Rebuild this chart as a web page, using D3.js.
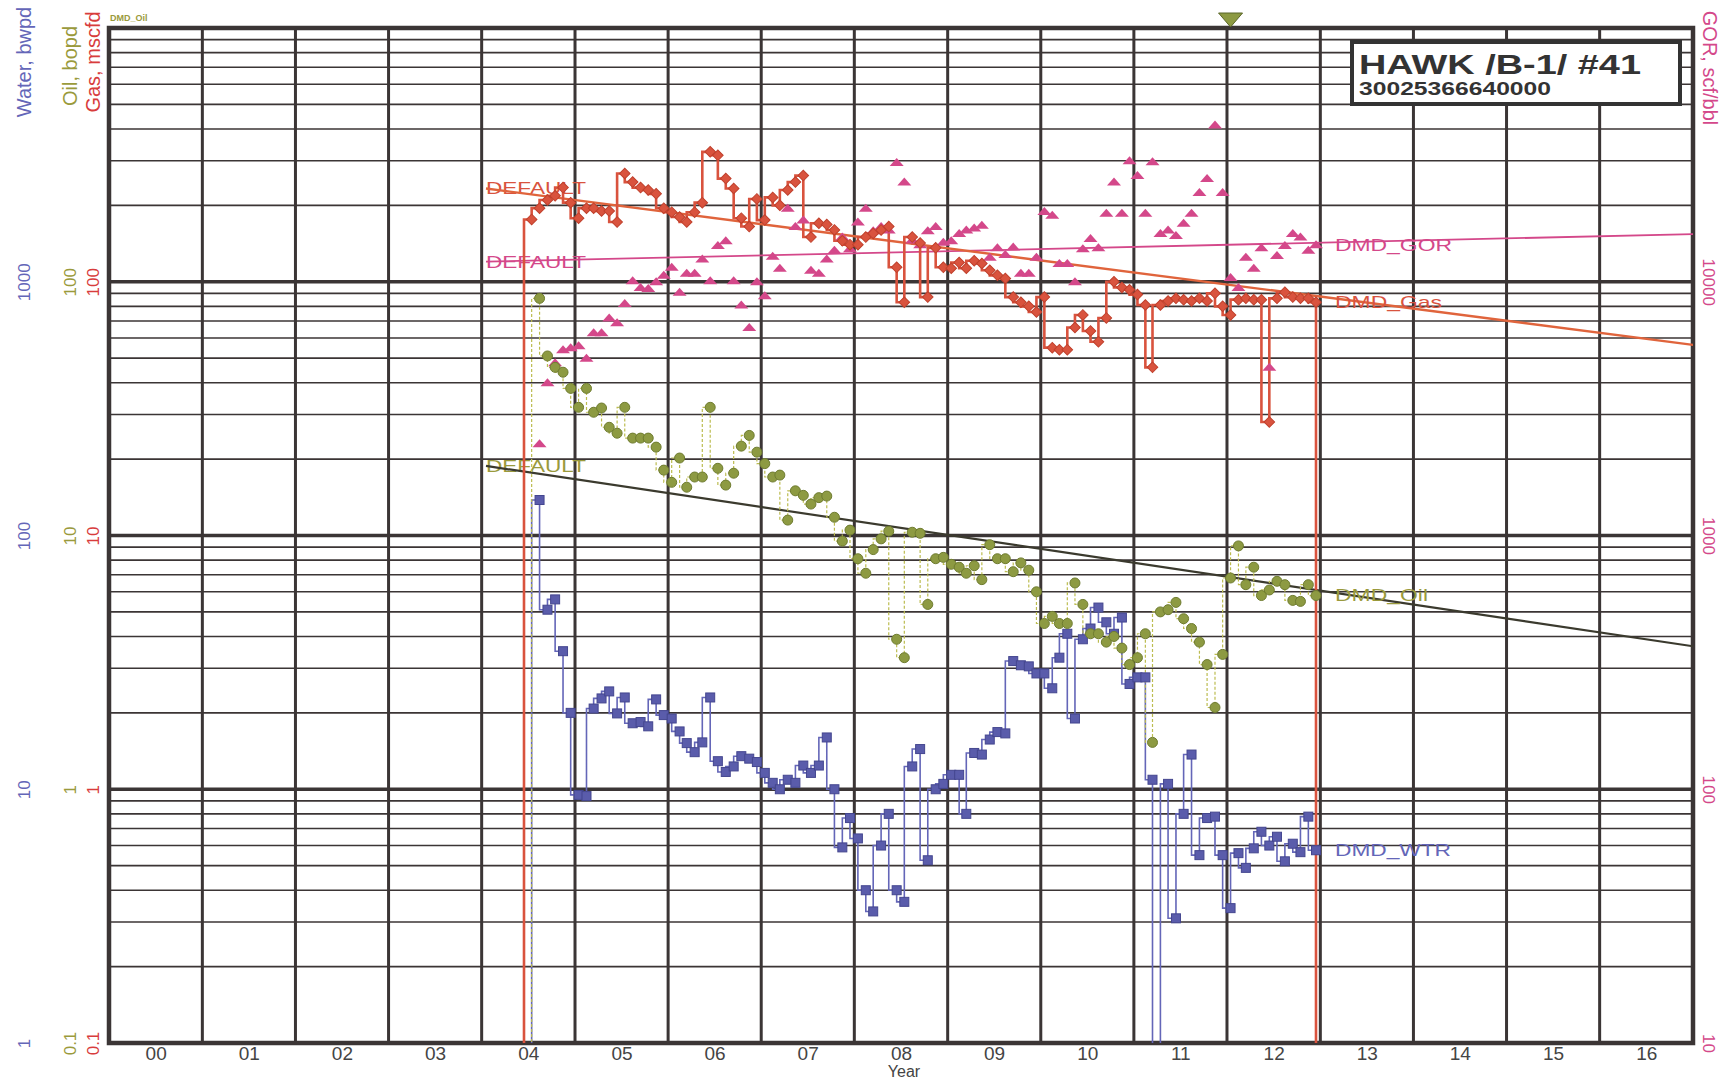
<!doctype html>
<html lang="en">
<head>
<meta charset="utf-8">
<title>HAWK /B-1/ #41</title>
<script src="https://d3js.org/d3.v7.min.js"></script>
<style>
  body { margin: 0; background: #fff; }
  svg { display: block; font-family: "Liberation Sans", Arial, sans-serif; }
</style>
</head>
<body>
<script>

// monthly values, gas starts Jul 2004, the other series one month later (Aug 2004)
var firstMonth = new Date(2004, 6, 15);
var lastMonth = new Date(2012, 11, 15);

var gas = [176, 195, 210, 218, 235, 205, 178, 195, 195, 190,
  190, 172, 267, 247, 235, 230, 222, 195, 188, 180,
  172, 188, 205, 325, 315, 255, 233, 178, 165, 212,
  175, 215, 200, 230, 247, 262, 150, 170, 168, 160,
  145, 140, 140, 150, 155, 160, 165, 114, 83, 150,
  142, 87, 136, 114, 113, 119, 113, 121, 118, 111,
  106, 103, 87, 83, 80, 76, 87, 55, 54, 54,
  66, 74, 64, 58, 72, 100, 95, 93, 89, 81,
  46, 81, 84, 86, 85, 84, 86, 84, 90, 80,
  74, 85, 86, 85, 85, 28, 86, 91, 87, 86,
  86, 83];

var oil = [86, 51, 46, 44, 38, 32, 38, 30.6, 31.8, 26.7,
  25.3, 32, 24.2, 24.2, 24.2, 22.3, 18.1, 16.2, 20.2, 15.5,
  17, 17, 32, 18.4, 15.8, 17.6, 22.5, 24.8, 21.3, 19.2,
  17, 17.3, 11.5, 15, 14.4, 13.3, 14.1, 14.3, 11.8, 9.5,
  10.5, 8.1, 7.1, 8.8, 9.7, 10.4, 3.9, 3.3, 10.3, 10.2,
  5.35, 8.1, 8.2, 7.7, 7.5, 7.1, 7.6, 6.7, 9.2, 8.1,
  8.1, 7.2, 7.8, 7.3, 6.0, 4.5, 4.8, 4.5, 4.5, 6.5,
  5.35, 4.1, 4.1, 3.8, 4.0, 3.6, 3.1, 3.3, 4.1, 1.53,
  5.0, 5.1, 5.45, 4.7, 4.3, 3.8, 3.1, 2.1, 3.4, 6.8,
  9.1, 6.4, 7.5, 5.8, 6.1, 6.6, 6.4, 5.55, 5.5, 6.4,
  5.8];

var gor = [2300, 4000, 4800, 5400, 5500, 5600, 5000, 6300, 6300, 7200,
  6900, 8200, 10100, 9500, 9400, 10000, 10600, 11400, 9100, 10800,
  10800, 12300, 10100, 13900, 14500, 10100, 8100, 6600, 10000, 8800,
  12600, 11300, 19500, 16500, 17500, 11100, 10800, 12300, 13300, 15000,
  13500, 17200, 19500, 15900, 16500, 16000, 29500, 24700, 14600, 14000,
  15900, 16500, 14300, 14500, 15500, 16000, 16300, 16700, 12500, 13600,
  12800, 13700, 10800, 10800, 12500, 18900, 18300, 11800, 11800, 10000,
  13500, 14800, 13600, 18600, 24700, 18600, 30000, 26200, 18600, 29700,
  15500, 16000, 15200, 17000, 18600, 22500, 25500, 41500, 22500, 10400,
  9500, 12500, 11300, 13600, 4600, 12700, 13900, 15500, 15000, 13300,
  14000];

var water = [138, 51, 56, 35, 20, 9.5, 9.4, 20.8, 22.8, 24.3,
  19.9, 23, 18.2, 18.4, 17.7, 22.6, 19.6, 19, 16.9, 15.2,
  14, 15.3, 23, 12.9, 11.7, 12.3, 13.5, 13.2, 12.8, 11.6,
  10.6, 10, 10.9, 10.6, 12.4, 11.6, 12.4, 16, 10, 5.9,
  7.7, 6.4, 4, 3.3, 6, 8, 4, 3.6, 12.3, 14.4,
  5.25, 10, 10.5, 11.4, 11.4, 8, 13.9, 13.7, 15.7, 16.8,
  16.6, 32, 30.8, 30.5, 28.6, 28.6, 25, 33, 41, 19,
  39, 43, 52, 45.5, 41, 47.5, 26, 27.6, 27.6, 10.9,
  0, 10.5, 3.1, 8, 13.7, 5.5, 7.7, 7.8, 5.5, 3.4,
  5.6, 4.9, 5.85, 6.8, 6, 6.5, 5.2, 6.1, 5.65, 7.8,
  5.75];

// decline lines (start value at trendStart, end value at trendEnd)
var trendStart = new Date(2004, 0, 18);
var trendEnd = new Date(2017, 0, 1);
var gasTrend = [233, 56.4];
var gorTrend = [12000, 15400];
var oilTrend = [18.8, 3.66];

var oilTicks = [0.1, 1, 10, 100];
var waterTicks = [1, 10, 100, 1000];
var gorTicks = [10, 100, 1000, 10000];
var markerDate = new Date(2012, 0, 15);

var W = 1733, H = 1081;
var pLeft = 109, pRight = 1693, pTop = 28, pBottom = 1043;

var gridColor = "#3b3535";
var gasColor = "#d9533e", gorColor = "#d4488a", oilColor = "#8d9a42", waterColor = "#5a5cab";

var svg = d3.select("body").append("svg")
    .attr("width", W)
    .attr("height", H);

var x = d3.scaleTime().domain([new Date(2000, 0, 1), new Date(2017, 0, 1)]).range([pLeft, pRight]);
var y = d3.scaleLog().domain([0.1, 1000]).range([pBottom, pTop]);      // oil & gas
var yW = d3.scaleLog().domain([1, 10000]).range([pBottom, pTop]);      // water
var yG = d3.scaleLog().domain([10, 100000]).range([pBottom, pTop]);    // gor

var months = d3.timeMonth.range(d3.timeMonth.floor(firstMonth), d3.timeMonth.offset(lastMonth, 1))
    .map(function(d) { return d3.timeDay.offset(d, 14); });
var laterMonths = months.slice(1);

svg.append("defs").append("clipPath").attr("id", "plot")
  .append("rect").attr("x", pLeft).attr("y", pTop).attr("width", pRight - pLeft).attr("height", pBottom - pTop);

// grid
var grid = svg.append("g");
y.ticks().forEach(function(v) {
  if (v <= 0.1 || v >= 1000) return;
  var lg = Math.log10(v);
  var major = Math.abs(lg - Math.round(lg)) < 1e-9;
  grid.append("line")
    .attr("x1", pLeft).attr("x2", pRight)
    .attr("y1", y(v)).attr("y2", y(v))
    .attr("stroke", gridColor)
    .attr("stroke-width", major ? 3.5 : 1.6);
});
d3.timeYear.range(new Date(2001, 0, 1), new Date(2017, 0, 1)).forEach(function(d) {
  grid.append("line")
    .attr("x1", x(d)).attr("x2", x(d))
    .attr("y1", pTop).attr("y2", pBottom)
    .attr("stroke", gridColor)
    .attr("stroke-width", 3);
});
grid.append("rect")
  .attr("x", pLeft).attr("y", pTop).attr("width", pRight - pLeft).attr("height", pBottom - pTop)
  .attr("fill", "none").attr("stroke", gridColor).attr("stroke-width", 4.5);

// x axis
var xAxis = svg.append("g")
    .attr("transform", "translate(0," + pBottom + ")")
    .call(d3.axisBottom(x)
      .tickValues(d3.timeYear.range(new Date(2000, 0, 1), new Date(2017, 0, 1)).map(function(d) { return new Date(d.getFullYear(), 6, 2); }))
      .tickFormat(d3.timeFormat("%y"))
      .tickSize(0).tickPadding(3));
xAxis.select(".domain").remove();
xAxis.attr("font-family", null).attr("font-size", 19);
xAxis.selectAll("text").attr("fill", "#444");

svg.append("text")
  .attr("x", 904).attr("y", 1077)
  .attr("text-anchor", "middle")
  .attr("font-size", 16)
  .attr("fill", "#444")
  .text("Year");

// side axes (rotated labels)
function sideAxis(scale, vals, xPos, color, rot) {
  var g = svg.append("g")
      .attr("transform", "translate(" + xPos + ",0)")
      .call(d3.axisLeft(scale).tickValues(vals).tickFormat(function(d) { return String(d); }).tickSize(0).tickPadding(0));
  g.select(".domain").remove();
  g.attr("font-family", null).attr("font-size", 17);
  g.selectAll("text")
    .attr("x", 0)
    .attr("dy", "0.35em")
    .attr("text-anchor", "middle")
    .attr("transform", "rotate(" + rot + ")")
    .attr("fill", color);
}
sideAxis(yW, waterTicks, 24, "#6466b8", -90);
sideAxis(y, oilTicks, 70, "#9a9a3c", -90);
sideAxis(y, oilTicks, 93, "#d83c3c", -90);
sideAxis(yG, gorTicks, 1709, "#d4488a", 90);

function sideTitle(txt, xPos, yPos, color, rot) {
  svg.append("text")
    .attr("transform", "translate(" + xPos + "," + yPos + ") rotate(" + rot + ")")
    .attr("dy", "0.35em")
    .attr("text-anchor", "middle")
    .attr("font-size", 20)
    .attr("fill", color)
    .text(txt);
}
sideTitle("Water, bwpd", 24, 62, "#6466b8", -90);
sideTitle("Oil, bopd", 70, 66, "#9a9a3c", -90);
sideTitle("Gas, mscfd", 93, 62, "#d83c3c", -90);
sideTitle("GOR, scf/bbl", 1710, 68, "#d4488a", 90);

svg.append("text")
  .attr("x", 110).attr("y", 21)
  .attr("font-size", 9)
  .attr("font-weight", "bold")
  .attr("fill", "#9a9a3c")
  .text("DMD_Oil");

// decline lines with their labels
var plot = svg.append("g").attr("clip-path", "url(#plot)");

function trend(vals, scale, color, sw, label, labelColor) {
  plot.append("text")
    .attr("x", x(trendStart))
    .attr("y", scale(vals[0]))
    .attr("dy", "0.35em")
    .attr("font-size", 17)
    .attr("textLength", 100)
    .attr("lengthAdjust", "spacingAndGlyphs")
    .attr("fill", labelColor)
    .text(label);
  plot.append("path")
    .datum([[trendStart, vals[0]], [trendEnd, vals[1]]])
    .attr("fill", "none")
    .attr("stroke", color)
    .attr("stroke-width", sw)
    .attr("d", d3.line().x(function(d) { return x(d[0]); }).y(function(d) { return scale(d[1]); }));
}
trend(gorTrend, yG, gorColor, 1.8, "DEFAULT", gorColor);
trend(gasTrend, y, "#e0643c", 2.4, "DEFAULT", gasColor);
trend(oilTrend, y, "#3b3a2e", 2.2, "DEFAULT", "#9a9a3c");

// step lines
function yPos(scale, v) { return v > 0 ? scale(v) : scale.range()[0] + 4; }

function stepLine(dates, vals, scale, color, sw, dash, dropAtEnd) {
  var pts = [[x(d3.timeMonth.offset(dates[0], -1)), scale.range()[0] + 4]];
  dates.forEach(function(d, i) { pts.push([x(d), yPos(scale, vals[i])]); });
  if (dropAtEnd) pts.push([x(dates[dates.length - 1]), scale.range()[0] + 4]);
  plot.append("path")
    .datum(pts)
    .attr("fill", "none")
    .attr("stroke", color)
    .attr("stroke-width", sw)
    .attr("stroke-dasharray", dash)
    .attr("d", d3.line().curve(d3.curveStepBefore));
}

stepLine(laterMonths, water, yW, "#6466b8", 1.6, null, false);
stepLine(laterMonths, oil, y, "#bcbc50", 1.2, "3,2", false);
stepLine(months, gas, y, gasColor, 2.6, null, true);

function pairs(dates, vals) {
  return dates.map(function(d, i) { return {date: d, v: vals[i]}; }).filter(function(d) { return d.v > 0; });
}

// markers
plot.append("g").selectAll("path")
  .data(pairs(laterMonths, gor))
  .join("path")
    .attr("transform", function(d) { return "translate(" + x(d.date) + "," + yG(d.v) + ")"; })
    .attr("d", "M-7,3.5L0,-4.5L7,3.5Z")
    .attr("fill", gorColor);

plot.append("g").selectAll("rect")
  .data(pairs(laterMonths, water))
  .join("rect")
    .attr("x", function(d) { return x(d.date) - 4.5; })
    .attr("y", function(d) { return yW(d.v) - 4.5; })
    .attr("width", 9).attr("height", 9)
    .attr("fill", waterColor)
    .attr("stroke", "#44468f");

plot.append("g").selectAll("circle")
  .data(pairs(laterMonths, oil))
  .join("circle")
    .attr("cx", function(d) { return x(d.date); })
    .attr("cy", function(d) { return y(d.v); })
    .attr("r", 5)
    .attr("fill", oilColor)
    .attr("stroke", "#6f7c30");

plot.append("g").selectAll("path")
  .data(pairs(months, gas))
  .join("path")
    .attr("transform", function(d) { return "translate(" + x(d.date) + "," + y(d.v) + ") rotate(45)"; })
    .attr("d", d3.symbol(d3.symbolSquare, 56))
    .attr("fill", gasColor)
    .attr("stroke", "#c0402c");

// end-of-data labels
function endLabel(txt, v, scale, color, len) {
  svg.append("text")
    .attr("x", x(lastMonth) + 19)
    .attr("y", scale(v))
    .attr("dy", "0.35em")
    .attr("font-size", 17)
    .attr("textLength", len)
    .attr("lengthAdjust", "spacingAndGlyphs")
    .attr("fill", color)
    .text(txt);
}
endLabel("DMD_GOR", gor[gor.length - 1], yG, gorColor, 117);
endLabel("DMD_Gas", gas[gas.length - 1], y, gasColor, 107);
endLabel("DMD_Oil", oil[oil.length - 1], y, "#9a9a3c", 93);
endLabel("DMD_WTR", water[water.length - 1], yW, "#6466b8", 116);

// marker triangle on top
svg.append("path")
  .attr("transform", "translate(" + x(markerDate) + "," + (pTop - 8) + ")")
  .attr("d", "M-12,-7L12,-7L0,7Z")
  .attr("fill", oilColor)
  .attr("stroke", "#5a6628");

// title box
svg.append("rect")
  .attr("x", 1352).attr("y", 42).attr("width", 328).attr("height", 62)
  .attr("fill", "#fff")
  .attr("stroke", "#333")
  .attr("stroke-width", 4);
svg.append("text")
  .attr("x", 1359).attr("y", 74)
  .attr("font-size", 28)
  .attr("font-weight", "bold")
  .attr("textLength", 282)
  .attr("lengthAdjust", "spacingAndGlyphs")
  .attr("fill", "#333")
  .text("HAWK /B-1/ #41");
svg.append("text")
  .attr("x", 1359).attr("y", 95)
  .attr("font-size", 18)
  .attr("font-weight", "bold")
  .attr("textLength", 192)
  .attr("lengthAdjust", "spacingAndGlyphs")
  .attr("fill", "#333")
  .text("30025366640000");

</script>
</body>
</html>
